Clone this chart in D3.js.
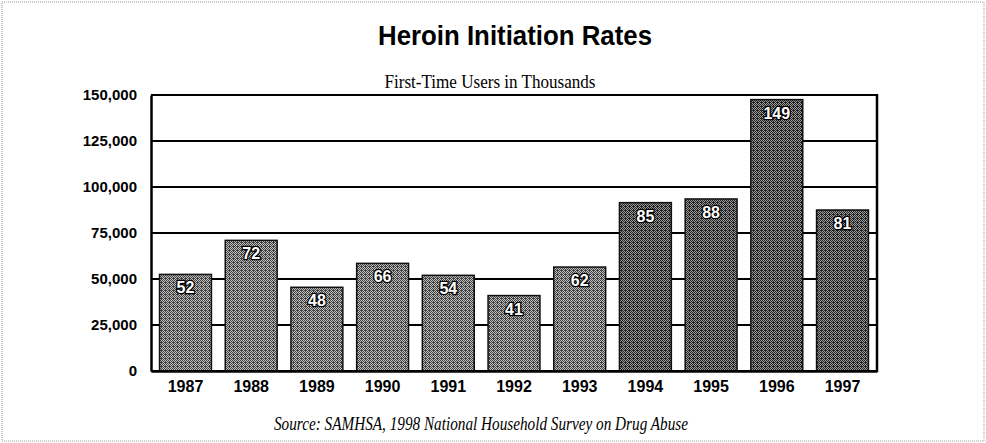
<!DOCTYPE html>
<html>
<head>
<meta charset="utf-8">
<script src="https://cdn.jsdelivr.net/npm/d3@7"></script>
<style>
  body { margin: 0; background: #fff; }
  svg { display: block; }
</style>
</head>
<body>
<svg width="986" height="443"></svg>
<script>
// data
var years = ['1987', '1988', '1989', '1990', '1991', '1992', '1993', '1994', '1995', '1996', '1997'];
// bar heights as drawn (users)
var barValues = [52500, 71000, 45500, 58500, 52000, 41000, 56500, 91500, 93500, 147500, 87500];
// printed labels (thousands)
var labels = [52, 72, 48, 66, 54, 41, 62, 85, 88, 149, 81];
var yTicks = [0, 25000, 50000, 75000, 100000, 125000, 150000];

var svg = d3.select('svg');

// plot box
var plotLeft = 151, plotRight = 877, plotTop = 95, plotBottom = 371;

// dithered fills (4x4 halftone cell)
var defs = svg.append('defs');
function dither(id, base, dot) {
    var p = defs.append('pattern')
        .attr('id', id)
        .attr('patternUnits', 'userSpaceOnUse')
        .attr('width', 4)
        .attr('height', 4);
    p.append('rect').attr('width', 4).attr('height', 4).attr('fill', base);
    [[0, 0], [2, 0], [1, 1], [3, 1], [0, 2], [2, 2], [3, 3], [1, 3], [1, 2]].forEach(function (c) {
        p.append('rect').attr('x', c[0]).attr('y', c[1]).attr('width', 1).attr('height', 1).attr('fill', dot);
    });
}
dither('lightDither', '#c0c0c0', '#404040');
dither('darkDither', '#9a9a9a', '#222');

// faint page border
svg.append('rect')
    .attr('x', 2).attr('y', 2)
    .attr('width', 982).attr('height', 439)
    .attr('fill', 'none')
    .attr('stroke', '#999')
    .attr('stroke-dasharray', '1,1');

var xscale = d3.scaleBand()
    .domain(years)
    .range([plotLeft, plotRight])
    .paddingInner(0.21)
    .paddingOuter(0.13);

var yscale = d3.scaleLinear()
    .domain([0, 150000])
    .range([plotBottom, plotTop]);

// gridlines
svg.append('g')
    .selectAll('line')
    .data(yTicks)
    .enter()
    .append('line')
    .attr('x1', plotLeft)
    .attr('x2', plotRight)
    .attr('y1', function (d) { return yscale(d); })
    .attr('y2', function (d) { return yscale(d); })
    .attr('stroke', '#000')
    .attr('stroke-width', 2);

// right border
svg.append('line')
    .attr('x1', plotRight).attr('x2', plotRight)
    .attr('y1', plotTop - 1).attr('y2', plotBottom + 1)
    .attr('stroke', '#000').attr('stroke-width', 2.5);

// y axis
var y_axis = d3.axisLeft()
    .scale(yscale)
    .tickValues(yTicks)
    .tickSize(0)
    .tickPadding(14)
    .tickFormat(d3.format(','));

svg.append('g')
    .attr('transform', 'translate(' + plotLeft + ',0)')
    .call(y_axis)
    .call(function (g) {
        g.select('.domain').attr('stroke-width', 2.5);
        g.selectAll('text')
            .style('font-family', '"Liberation Sans", Arial, sans-serif')
            .style('font-weight', 'bold')
            .style('font-size', '15px')
            .attr('fill', '#000');
    });

// bars
svg.append('g')
    .selectAll('rect')
    .data(barValues)
    .enter()
    .append('rect')
    .attr('x', function (d, i) { return xscale(years[i]); })
    .attr('width', xscale.bandwidth())
    .attr('y', function (d) { return yscale(d); })
    .attr('height', function (d) { return plotBottom - yscale(d); })
    .attr('fill', function (d, i) { return i >= 7 ? 'url(#darkDither)' : 'url(#lightDither)'; })
    .attr('stroke', '#111')
    .attr('stroke-width', 1.5);

// value labels
svg.append('g')
    .selectAll('text')
    .data(labels)
    .enter()
    .append('text')
    .attr('x', function (d, i) { return xscale(years[i]) + xscale.bandwidth() / 2; })
    .attr('y', function (d, i) { return yscale(barValues[i]) + 19; })
    .attr('text-anchor', 'middle')
    .style('font-family', '"Liberation Sans", Arial, sans-serif')
    .style('font-weight', 'bold')
    .style('font-size', '16px')
    .style('paint-order', 'stroke')
    .attr('fill', '#fff')
    .attr('stroke', '#000')
    .attr('stroke-width', 2.5)
    .text(function (d) { return d; });

// x axis
var x_axis = d3.axisBottom()
    .scale(xscale)
    .tickSize(0)
    .tickPadding(10);

svg.append('g')
    .attr('transform', 'translate(0,' + plotBottom + ')')
    .call(x_axis)
    .call(function (g) {
        g.select('.domain').attr('stroke-width', 2.5);
        g.selectAll('text')
            .style('font-family', '"Liberation Sans", Arial, sans-serif')
            .style('font-weight', 'bold')
            .style('font-size', '16px')
            .attr('fill', '#000');
    });

// titles
svg.append('text')
    .attr('x', 515)
    .attr('y', 45)
    .attr('text-anchor', 'middle')
    .attr('textLength', 274)
    .attr('lengthAdjust', 'spacingAndGlyphs')
    .style('font-family', '"Liberation Sans", Arial, sans-serif')
    .style('font-weight', 'bold')
    .style('font-size', '27px')
    .text('Heroin Initiation Rates');

svg.append('text')
    .attr('x', 490)
    .attr('y', 88)
    .attr('text-anchor', 'middle')
    .attr('textLength', 211)
    .attr('lengthAdjust', 'spacingAndGlyphs')
    .style('font-family', '"Liberation Serif", "DejaVu Serif", serif')
    .style('font-size', '18px')
    .text('First-Time Users in Thousands');

svg.append('text')
    .attr('x', 481)
    .attr('y', 430)
    .attr('text-anchor', 'middle')
    .attr('textLength', 414)
    .attr('lengthAdjust', 'spacingAndGlyphs')
    .style('font-family', '"Liberation Serif", "DejaVu Serif", serif')
    .style('font-style', 'italic')
    .style('font-size', '18px')
    .text('Source: SAMHSA, 1998 National Household Survey on Drug Abuse');
</script>
</body>
</html>
